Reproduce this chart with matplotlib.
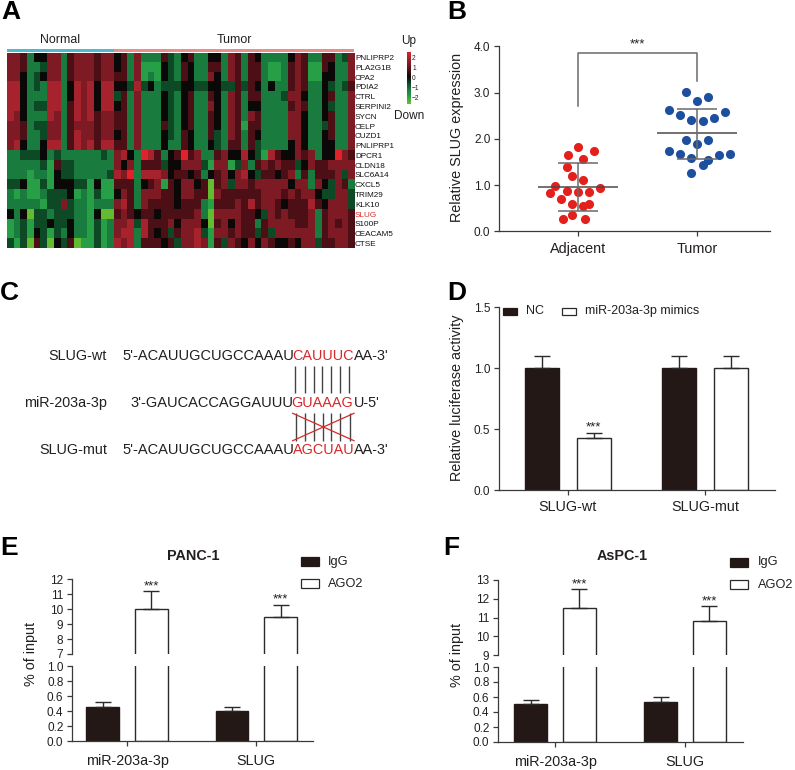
import numpy as np
import matplotlib
matplotlib.use("Agg")
from matplotlib import pyplot as plt
from matplotlib.colors import LinearSegmentedColormap
from matplotlib.patches import Rectangle

plt.rcParams['font.family'] = ['Liberation Sans', 'DejaVu Sans']

W, H = 795, 770
TEXT = '#231f20'
AXIS = '#3a3a3a'
DARK = '#231815'

# panel A, levels 0..8 (0 lime, 4 black, 8 bright red)
genes = ['PNLIPRP2', 'PLA2G1B', 'CPA2', 'PDIA2', 'CTRL', 'SERPINI2', 'SYCN', 'CELP', 'CUZD1', 'PNLIPRP1',
         'DPCR1', 'CLDN18', 'SLC6A14', 'CXCL5', 'TRIM29', 'KLK10', 'SLUG', 'S100P', 'CEACAM5', 'CTSE']
heat_normal = ['6652446625666566', '6652236625666566', '6642346625666566', '7742327724767477',
               '7742227724767477', '7742337725767477', '7642227625767566', '6652336625666566',
               '6652236625766566', '6742247725767577', '2233342322222232', '2222231533222222',
               '2221221433222223', '3341131444331411', '2121123334121311', '2222213363221222',
               '4240332333221400', '1231334334221312', '1231431324221312', '3130530435011312']
heat_tumor = ['4526222532452' + '24426525422224652255236', '4526111432542' + '25526525521125651154226',
              '5526121432542' + '26426525521125651144226', '4437342333443' + '34433535424225652243235',
              '3526222432452' + '25426525522236642245226', '4526222432452' + '26426524422225652243226',
              '5526222432452' + '25426526522226642245226', '5526222532452' + '25426515522226642235226',
              '4526222432542' + '25326525422226642245226', '5526222422542' + '24325525322224642244226',
              '6742875245856' + '22564474317544656244865', '6462555344666' + '31661362565655346556666',
              '7682777645545' + '24564674355456252555636', '5552456154664' + '50563665666664662643652',
              '4652666554665' + '50655555566656566433663', '6752655554555' + '21555657566545557546663',
              '5654554555556' + '20666655436565556256665', '6673755564666' + '40564655256666556256565',
              '6772754535667' + '31665655353666666256665', '7672555453667' + '61536546465445466355665']
heat_ticks = [2, 1, 0, -1, -2]

# panel B
b_cats = ['Adjacent', 'Tumor']
adjacent_vals = [1.83, 1.74, 1.64, 1.56, 1.40, 1.20, 1.10, 0.99, 0.83, 0.88,
                 0.85, 0.86, 0.94, 0.70, 0.60, 0.55, 0.60, 0.35, 0.27, 0.27]
adjacent_dx = [0, 0.138, -0.084, 0.045, -0.095, -0.048, 0.045, -0.191, -0.236, -0.095,
               0, 0.093, 0.185, -0.143, -0.048, 0.045, 0.093, -0.048, -0.126, 0.062]
tumor_vals = [3.02, 2.90, 2.82, 2.62, 2.58, 2.52, 2.44, 2.41, 2.39, 1.98,
              1.97, 1.88, 1.73, 1.67, 1.59, 1.66, 1.68, 1.54, 1.43, 1.25]
tumor_dx = [-0.093, 0.093, 0, -0.233, 0.233, -0.140, 0.140, -0.048, 0.048, -0.093,
            0.093, 0, -0.233, -0.140, -0.048, 0.188, 0.281, 0.093, 0.048, -0.048]
b_means = [0.96, 2.12]
b_upper = [1.48, 2.65]
b_lower = [0.44, 1.57]

# panel C
c_rows = [('SLUG-wt', 356, 122, "5'-ACAUUGCUGCCAAAU", 292.5, 'CAUUUC', 354, "AA-3'"),
          ('miR-203a-3p', 403, 130, "3'-GAUCACCAGGAUUU", 291.5, 'GUAAAG', 354, "U-5'"),
          ('SLUG-mut', 450, 122, "5'-ACAUUGCUGCCAAAU", 292.5, 'AGCUAU', 354, "AA-3'")]
pair_x_top = [295.3, 304.7, 314, 322.3, 331, 340.3, 349]
pair_x_bot = [296.3, 304.7, 314, 323, 331.3, 340.3, 349.7]

# panel D
d_cats = ['SLUG-wt', 'SLUG-mut']
d_nc = [1.0, 1.0]
d_nc_err = [0.1, 0.1]
d_mimic = [0.43, 1.0]
d_mimic_err = [0.04, 0.1]

# panels E, F
ef_cats = ['miR-203a-3p', 'SLUG']
e_igg = [0.45, 0.40]
e_igg_err = [0.07, 0.05]
e_ago = [10.0, 9.5]
e_ago_err = [1.2, 0.8]
f_igg = [0.51, 0.54]
f_igg_err = [0.05, 0.06]
f_ago = [11.5, 10.8]
f_ago_err = [1.0, 0.8]


def px_axes(fig, x0, y0, x1, y1):
    return fig.add_axes([x0 / W, 1 - y1 / H, (x1 - x0) / W, (y1 - y0) / H])


def style_axis(ax, left=True, bottom=True, xpad=5):
    for side in ['top', 'right']:
        ax.spines[side].set_visible(False)
    ax.spines['left'].set_visible(left)
    ax.spines['bottom'].set_visible(bottom)
    for side in ['left', 'bottom']:
        ax.spines[side].set_linewidth(0.9)
        ax.spines[side].set_color(AXIS)
    ax.tick_params(axis='both', length=3.4, width=0.9, color=AXIS, labelcolor=TEXT)
    ax.tick_params(axis='y', labelsize=8.5, pad=2.8)
    ax.tick_params(axis='x', labelsize=10.4, pad=xpad)
    ax.patch.set_alpha(0)


def draw_bars(ax, values, errs, offset, width, dark):
    xs = np.arange(len(values)) + offset
    ax.bar(xs, values, width, color=DARK if dark else 'white', edgecolor=DARK if dark else '#2a2a2a', linewidth=1.0)
    ax.errorbar(xs, values, yerr=[np.zeros(len(errs)), errs], fmt='none', ecolor='#2a2a2a',
                elinewidth=1.0, capsize=5.8, capthick=1.0)


def stars(ax, x, y):
    ax.annotate('***', (x, y), xytext=(0, 3.8), textcoords='offset points', ha='center', va='center',
                fontsize=9.5, color=TEXT)


def broken_panel(fig, left, right, y_top, y_7, y_1, y_0, tick_x, group, low, high, igg, igg_err, ago, ago_err):
    offset, width = 24.3 / group, 32.5 / group
    xlim = ((left - tick_x) / group, (right - tick_x) / group)
    top = px_axes(fig, left, y_top, right, y_7)
    bot = px_axes(fig, left, y_1, right, y_0)
    draw_bars(top, ago, ago_err, offset, width, False)
    draw_bars(bot, igg, igg_err, -offset, width, True)
    bot.bar(np.arange(2) + offset, ago, width, color='white', edgecolor='#2a2a2a', linewidth=1.0)
    top.set_xlim(xlim)
    bot.set_xlim(xlim)
    top.set_ylim(low, high)
    bot.set_ylim(0, 1)
    top.set_yticks(np.arange(low, high + 1))
    bot.set_yticks([0, 0.2, 0.4, 0.6, 0.8, 1.0])
    top.set_xticks([])
    bot.set_xticks([0, 1])
    bot.set_xticklabels(ef_cats)
    style_axis(top, bottom=False)
    style_axis(bot, xpad=6)
    for i in range(2):
        stars(top, i + offset, ago[i] + ago_err[i])


fig = plt.figure(figsize=(W / 100, H / 100), dpi=100)
over = fig.add_axes([0, 0, 1, 1], zorder=10)
over.set_xlim(0, W)
over.set_ylim(H, 0)
over.axis('off')


def put(x, y, s, size=10.4, ha='center', rotation=0, color=TEXT, weight='normal'):
    over.text(x, y, s, fontsize=size, ha=ha, va='center', rotation=rotation, color=color, fontweight=weight,
              rotation_mode='anchor')


for letter, x, y in [('A', 1, 12), ('B', 447, 12), ('C', 0, 293), ('D', 447, 293), ('E', 0, 548), ('F', 443, 548)]:
    put(x, y, letter, size=19, ha='left', color='black', weight='bold')

# A
heat_cmap = LinearSegmentedColormap.from_list(
    'heat', ['#63bb2f', '#27a048', '#1a7c3f', '#0f4a27', '#0a0808', '#4a0f15', '#7d1a24', '#a5242f', '#e2222a'])
heat = np.array([[int(c) for c in a + b] for a, b in zip(heat_normal, heat_tumor)])
ax = px_axes(fig, 6.7, 52.7, 354, 248.3)
ax.imshow(heat, cmap=heat_cmap, vmin=0, vmax=8, aspect='auto', interpolation='nearest')
ax.set_xticks([])
ax.yaxis.tick_right()
ax.set_yticks(np.arange(len(genes)))
ax.set_yticklabels(genes)
ax.tick_params(axis='y', length=0, labelsize=5.9, pad=0.7, labelcolor='#111111')
ax.get_yticklabels()[genes.index('SLUG')].set_color('#d7282a')
for side in ax.spines.values():
    side.set_visible(False)

n_normal = len(heat_normal[0])
strip = px_axes(fig, 6.7, 48.7, 354, 52)
strip.set_xlim(0, heat.shape[1])
strip.set_ylim(0, 1)
strip.axis('off')
strip.add_patch(Rectangle((0, 0), n_normal, 1, color='#4fb9cd', lw=0))
strip.add_patch(Rectangle((n_normal, 0), heat.shape[1] - n_normal, 1, color='#e98f8b', lw=0))
put(60, 40, 'Normal', size=8.9)
put(234, 40, 'Tumor', size=8.9)
put(409, 41, 'Up', size=8.5)
put(409, 116, 'Down', size=8.5)

cbar = px_axes(fig, 406.5, 52, 410, 104)
cbar.imshow(np.linspace(2.5, -2.7, 100).reshape(-1, 1), cmap=heat_cmap, vmin=-2.6, vmax=2.6,
            aspect='auto', extent=[0, 1, -2.7, 2.5])
cbar.set_xticks([])
cbar.yaxis.tick_right()
cbar.set_yticks(heat_ticks)
cbar.set_yticklabels([str(t).replace('-', '\u2212') for t in heat_ticks])
cbar.tick_params(axis='y', length=0, labelsize=4.8, pad=1.5, labelcolor=TEXT)
for side in cbar.spines.values():
    side.set_visible(False)

# B
ax = px_axes(fig, 499, 46.3, 770, 231.3)
ax.set_xlim((499 - 578) / 119, (770 - 578) / 119)
ax.set_ylim(0, 4)
ax.scatter(np.add(0, adjacent_dx), adjacent_vals, s=43, color='#e4201c', linewidths=0, zorder=2)
ax.scatter(np.add(1, tumor_dx), tumor_vals, s=43, color='#1d4f9f', linewidths=0, zorder=2)
for i in range(2):
    ax.hlines(b_means[i], i - 0.333, i + 0.333, color='#4a4a4a', lw=1.1, zorder=3)
    ax.hlines([b_upper[i], b_lower[i]], i - 0.167, i + 0.167, color='#6a6a6a', lw=1.1, zorder=3)
    ax.vlines(i, b_lower[i], b_upper[i], color='#6a6a6a', lw=1.1, zorder=3)
ax.plot([0, 0, 1, 1], [2.7, 3.86, 3.86, 3.25], color='#6a6a6a', lw=1.1)
ax.text(0.5, 4.03, '***', ha='center', va='center', fontsize=9.5, color=TEXT)
ax.set_xticks([0, 1])
ax.set_xticklabels(b_cats)
ax.set_yticks([0, 1, 2, 3, 4])
ax.set_yticklabels(['0.0', '1.0', '2.0', '3.0', '4.0'])
style_axis(ax, xpad=4)
put(457, 137, 'Relative SLUG expression', rotation=90)

# C
for name, y, x0, left_seq, x1, red_seq, x2, right_seq in c_rows:
    put(107, y, name, ha='right')
    put(x0, y, left_seq, ha='left', size=10.55)
    put(x1, y, red_seq, ha='left', color='#d7282a')
    put(x2, y, right_seq, ha='left')
over.vlines(pair_x_top, 365.7, 393.3, color='#444444', lw=1.0)
over.vlines(pair_x_bot, 412.7, 440.7, color='#444444', lw=1.0)
over.plot([292.7, 354], [413.3, 440.7], color='#d7282a', lw=0.9)
over.plot([292.7, 354], [440.7, 413.3], color='#d7282a', lw=0.9)

# D
group = 137.7
offset, width = 26 / group, 34 / group
ax = px_axes(fig, 499, 307, 775, 490.3)
draw_bars(ax, d_nc, d_nc_err, -offset, width, True)
draw_bars(ax, d_mimic, d_mimic_err, offset, width, False)
ax.set_xlim((499 - 567.7) / group, (775 - 567.7) / group)
ax.set_ylim(0, 1.5)
ax.set_xticks([0, 1])
ax.set_xticklabels(d_cats)
ax.set_yticks([0, 0.5, 1.0, 1.5])
ax.set_yticklabels(['0.0', '0.5', '1.0', '1.5'])
style_axis(ax, xpad=3.5)
stars(ax, offset, d_mimic[0] + d_mimic_err[0])
put(457, 398, 'Relative luciferase activity', rotation=90)
over.add_patch(Rectangle((502.7, 307.7), 14.6, 7.3, facecolor=DARK, edgecolor=DARK, lw=0.9))
over.add_patch(Rectangle((561.7, 307.7), 14.6, 7.3, facecolor='white', edgecolor='#2a2a2a', lw=0.9))
put(525.7, 311, 'NC', size=9, ha='left')
put(584.7, 311, 'miR-203a-3p mimics', size=9, ha='left')

# E
broken_panel(fig, 72, 313, 579.3, 654, 666.3, 741, 127, 129.3, 7, 12, e_igg, e_igg_err, e_ago, e_ago_err)
put(31, 654, '% of input', rotation=90)
put(193, 556, 'PANC-1', size=10.4, weight='bold')
over.add_patch(Rectangle((301, 557), 18, 9, facecolor=DARK, edgecolor=DARK, lw=0.9))
over.add_patch(Rectangle((301, 579), 18, 9, facecolor='white', edgecolor='#2a2a2a', lw=0.9))
put(328, 562, 'IgG', size=9.2, ha='left')
put(328, 584, 'AGO2', size=9.2, ha='left')

# F
broken_panel(fig, 498, 743, 580, 655, 667, 742, 555, 130, 9, 13, f_igg, f_igg_err, f_ago, f_ago_err)
put(457, 655, '% of input', rotation=90)
put(622, 556, 'AsPC-1', size=10.4, weight='bold')
over.add_patch(Rectangle((730, 558), 18, 9, facecolor=DARK, edgecolor=DARK, lw=0.9))
over.add_patch(Rectangle((730, 580), 18, 9, facecolor='white', edgecolor='#2a2a2a', lw=0.9))
put(758, 562, 'IgG', size=9.2, ha='left')
put(758, 585, 'AGO2', size=9.2, ha='left')

plt.savefig('out.png', dpi=100)
plt.close('all')
